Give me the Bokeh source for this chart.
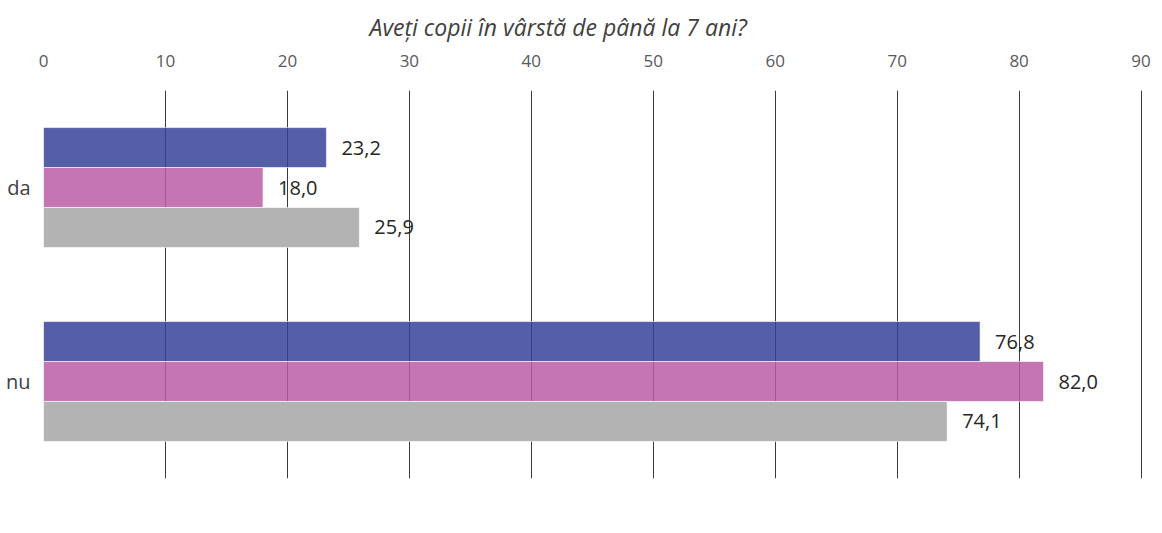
from bokeh.plotting import figure
from bokeh.models import ColumnDataSource, FactorRange, Range1d, Legend, LegendItem, Title
from bokeh.transform import dodge
from bokeh.core.properties import value
from bokeh.embed import file_html
from bokeh.resources import INLINE

categories = ["da", "nu"]
series = ["Total", "Femei", "Bărbați"]
total = [23.2, 76.8]
femei = [18.0, 82.0]
barbati = [25.9, 74.1]
labels_total = ["23,2", "76,8"]
labels_femei = ["18,0", "82,0"]
labels_barbati = ["25,9", "74,1"]
ticks = [0, 10, 20, 30, 40, 50, 60, 70, 80, 90]

colors = ["#37429a", "#bb5da6", "#b3b3b3"]
alphas = [0.85, 0.85, 1.0]
offsets = [0.206, 0.0, -0.206]
FONT = "Open Sans"

src = ColumnDataSource(dict(cat=categories, Total=total, Femei=femei, Barbati=barbati,
                            lt=labels_total, lf=labels_femei, lb=labels_barbati))

p = figure(frame_width=1100, frame_height=388, y_range=FactorRange(factors=["nu", "da"]),
           x_range=Range1d(0, 90.2), x_axis_location="above",
           output_backend="svg", toolbar_location=None,
           min_border_left=43, min_border_right=8, min_border_top=89, min_border_bottom=44)
p.outline_line_color = None
p.background_fill_color = "white"
p.border_fill_color = "white"

p.add_layout(Title(text="Aveți copii în vârstă de până la 7 ani?", text_font=FONT,
                   text_font_style="italic", text_font_size="23px", text_color="#404040",
                   align="left", offset=326, standoff=17), "above")

cols = ["Total", "Femei", "Barbati"]
lcols = ["lt", "lf", "lb"]
renderers = []
for col, lc, c, a, off in zip(cols, lcols, colors, alphas, offsets):
    r = p.hbar(y=dodge("cat", off, range=p.y_range), right=col, left=0, height=0.206,
               source=src, fill_color=c, fill_alpha=a, line_color="white", line_width=1,
               line_alpha=0.6)
    renderers.append(r)
    p.text(x=col, y=dodge("cat", off, range=p.y_range), text=lc, source=src,
           x_offset=15, text_align="left", text_baseline="middle",
           text_font=value(FONT), text_font_size="20px", text_color="#262626")

p.xaxis.ticker = ticks
p.xaxis.axis_line_color = None
p.xaxis.major_tick_line_color = None
p.xaxis.minor_tick_line_color = None
p.xaxis.major_tick_out = 0
p.xaxis.minor_tick_out = 0
p.xaxis.major_label_standoff = 24
p.xaxis.major_label_text_font = FONT
p.xaxis.major_label_text_font_size = "17px"
p.xaxis.major_label_text_color = "#595959"

p.yaxis.axis_line_color = None
p.yaxis.major_tick_line_color = None
p.yaxis.major_tick_out = 0
p.yaxis.major_label_standoff = 13
p.yaxis.major_label_text_font = FONT
p.yaxis.major_label_text_font_size = "20px"
p.yaxis.major_label_text_color = "#404040"

p.xgrid.grid_line_color = "#3a3a3a"
p.xgrid.grid_line_width = 1
p.ygrid.grid_line_color = None

legend = Legend(items=[LegendItem(label=s, renderers=[r]) for s, r in zip(series, renderers)],
                orientation="horizontal", location="bottom_center",
                label_text_font=FONT, label_text_font_size="20px", label_text_color="#404040",
                glyph_width=9, glyph_height=9, label_standoff=4, spacing=10,
                padding=0, margin=2, border_line_color=None, background_fill_alpha=0)
p.add_layout(legend, "below")

open("out.html", "w").write(file_html(p, INLINE))
